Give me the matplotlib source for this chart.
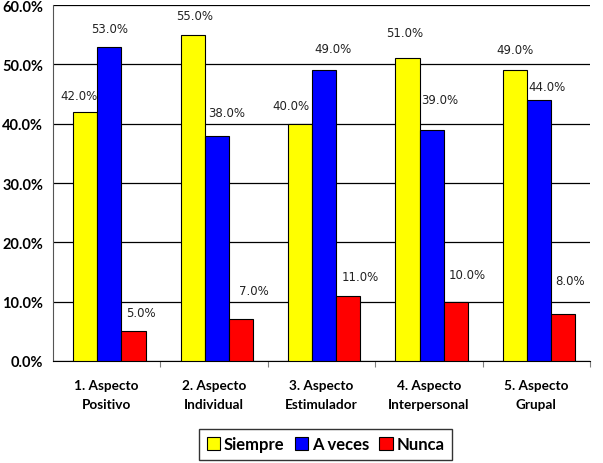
import matplotlib
matplotlib.use("Agg")
import matplotlib.pyplot as plt
import numpy as np

categories = ["1. Aspecto\nPositivo", "2. Aspecto\nIndividual", "3. Aspecto\nEstimulador",
              "4. Aspecto\nInterpersonal", "5. Aspecto\nGrupal"]
series_names = ["Siempre", "A veces", "Nunca"]
siempre = [42.0, 55.0, 40.0, 51.0, 49.0]
a_veces = [53.0, 38.0, 49.0, 39.0, 44.0]
nunca = [5.0, 7.0, 11.0, 10.0, 8.0]
colors = ["#FFFF00", "#0000FF", "#FF0000"]
y_ticks = [0, 10, 20, 30, 40, 50, 60]

# label offsets (pixels) relative to bar top centre, per series, per category
label_dx = [[-6, 2, -9, -3, 0], [0, 10, 9, 8, 8], [7, 13, 12, 11, 7]]
label_dy = [[16, 19, 18, 26, 21], [18, 23, 22, 30, 13], [19, 29, 19, 27, 33]]

fig = plt.figure(figsize=(6.03, 4.64), dpi=100)
ax = fig.add_axes([53/603, (464-362)/464, 537/603, 356/464])

x = np.arange(len(categories))
w = 0.225
series = [siempre, a_veces, nunca]
for i, (vals, c, name) in enumerate(zip(series, colors, series_names)):
    pos = x + (i - 1) * w + 0.025
    bars = ax.bar(pos, vals, w, color=c, edgecolor="black", linewidth=0.8, label=name, zorder=3)
    for j, (b, v) in enumerate(zip(bars, vals)):
        ax.annotate(f"{v:.1f}%", (b.get_x() + b.get_width()/2, v),
                    xytext=(label_dx[i][j], label_dy[i][j]),
                    textcoords="offset pixels", ha="center", va="center",
                    fontsize=8.5, family="DejaVu Sans", color="#222222", zorder=4)

ax.set_xlim(-0.5, len(categories) - 0.5)
ax.set_ylim(0, 60)
ax.set_yticks(y_ticks)
ax.set_yticklabels([f"{t:.1f}%" for t in y_ticks], fontsize=10.5, fontweight="bold", family="Lato")
ax.yaxis.grid(True, color="black", linewidth=0.9, zorder=0)
ax.set_axisbelow(True)
ax.set_xticks(np.arange(len(categories)) + 0.5, minor=False)
ax.set_xticklabels([])
ax.tick_params(axis="x", length=4, direction="out", color="gray")
ax.set_xticks(x, minor=True)
ax.set_xticklabels(categories, minor=True, fontsize=9.8, fontweight="bold", family="Lato",
                   linespacing=1.7)
ax.tick_params(axis="x", which="minor", length=0, pad=13)
ax.tick_params(axis="y", length=0, pad=7)
for s in ["top", "right"]:
    ax.spines[s].set_visible(False)
ax.spines["left"].set_color("#555555")
ax.spines["bottom"].set_color("black")

leg = ax.legend(loc="upper center", bbox_to_anchor=(0.508, -0.191), ncol=3, frameon=True,
                fancybox=False, edgecolor="black", handlelength=0.8, handleheight=0.8,
                handletextpad=0.25, columnspacing=0.6, borderpad=0.45, borderaxespad=0,
                prop={"family": "Lato", "weight": "bold", "size": 12})
leg.get_frame().set_linewidth(1.0)

fig.savefig("out.png", dpi=100)
